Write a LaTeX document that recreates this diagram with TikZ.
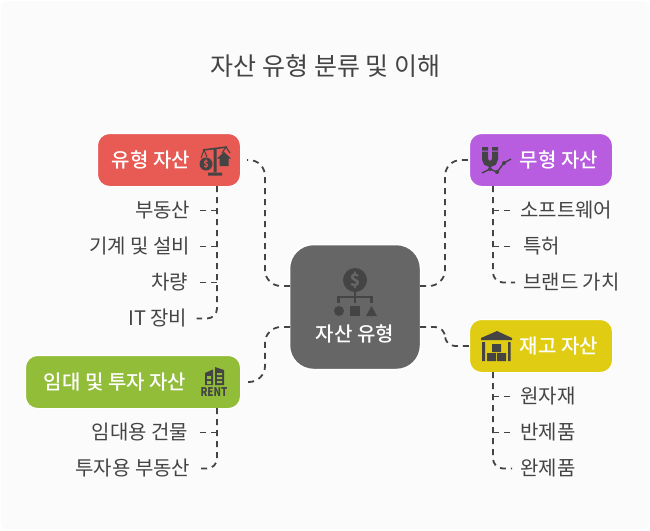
\documentclass[tikz,border=0pt]{standalone}
\usepackage{fontspec}
\setmainfont{Noto Sans CJK KR}
\newfontfamily\medfont{Noto Sans CJK KR Medium}
\definecolor{pagegray}{HTML}{FBFBFB}
\definecolor{inkgray}{HTML}{444444}
\definecolor{coregray}{HTML}{666666}
\definecolor{redbox}{HTML}{E85A54}
\definecolor{purplebox}{HTML}{B85CE0}
\definecolor{yellowbox}{HTML}{E1CC14}
\definecolor{greenbox}{HTML}{92BD38}
\tikzset{
    box/.style={draw=white, line width=1pt, rounded corners=12pt, minimum width=143pt,
        minimum height=53pt, inner sep=0pt, text=white, font=\fontsize{20}{22}\medfont},
    leaf/.style={inner sep=0pt, text=inkgray, font=\fontsize{20}{22}\selectfont},
    link/.style={draw=inkgray, line width=1.8pt, dash pattern=on 6pt off 5pt, rounded corners=16pt},
    icon/.style={fill=inkgray, draw=none}
}
\begin{document}
\begin{tikzpicture}[x=1pt, y=-1pt]
    \useasboundingbox (0,0) rectangle (650,530);
    \fill[pagegray, rounded corners=6pt] (1,1) rectangle (649,529);
    \node[text=inkgray, inner sep=0pt, font=\fontsize{25}{28}\selectfont] (title) at (325.5,66.5) {자산 유형 분류 및 이해};
    % center and the four boxes
    \node[draw=white, line width=1.5pt, fill=coregray, rounded corners=24pt, minimum width=131pt, minimum height=125pt] (core) at (355,307) {};
    \node[box, fill=redbox] (tangible) at (169,160) {유형 자산\hspace*{36pt}};
    \node[box, fill=purplebox] (intangible) at (541,160) {\hspace*{36pt}무형 자산};
    \node[box, fill=yellowbox] (inventory) at (541,346) {\hspace*{36pt}재고 자산};
    \node[box, fill=greenbox, minimum width=215pt] (lease) at (133,382) {임대 및 투자 자산\hspace*{36pt}};
    \node[inner sep=0pt, text=white, font=\fontsize{20}{22}\medfont] (core label) at (355,333.5) {자산 유형};
    % leaves
    \node[leaf, anchor=east] (realty) at (190.5,210.5) {부동산};
    \node[leaf, anchor=east] (machine) at (190.5,246.5) {기계 및 설비};
    \node[leaf, anchor=east] (vehicle) at (188.5,282.5) {차량};
    \node[leaf, anchor=east] (itgear) at (187.5,318.5) {IT 장비};
    \node[leaf, anchor=west] (software) at (520,210.5) {소프트웨어};
    \node[leaf, anchor=west] (patent) at (523,246.5) {특허};
    \node[leaf, anchor=west] (brand) at (523,282.5) {브랜드 가치};
    \node[leaf, anchor=west] (rawmat) at (520,396.5) {원자재};
    \node[leaf, anchor=west] (semi) at (520,432.5) {반제품};
    \node[leaf, anchor=west] (finished) at (520,468.5) {완제품};
    \node[leaf, anchor=east] (rental) at (188.5,432.5) {임대용 건물};
    \node[leaf, anchor=east] (invest) at (190.5,468.5) {투자용 부동산};
    % center to boxes
    \coordinate (core nw) at (290,286);
    \coordinate (core sw) at (290,327);
    \coordinate (core ne) at (420,286);
    \coordinate (core se) at (420,327);
    \draw[link] (core nw) -- ++(-25,0) |- ([xshift=6pt]tangible.east);
    \draw[link] (core ne) -- ++(25,0) |- ([xshift=-1pt]intangible.west);
    \draw[link, rounded corners=10pt] (core se) -- ++(25,0) |- (inventory.west);
    \draw[link] (core sw) -- ++(-25,0) |- ([xshift=6pt]lease.east);
    % box to leaves
    \coordinate (tangible foot) at (217,186);
    \coordinate (intangible foot) at (493,186);
    \coordinate (inventory foot) at (493,372);
    \coordinate (lease foot) at (217,408);
    \draw[link, rounded corners=10pt] (tangible foot) |- ([xshift=9pt]itgear.east);
    \draw[link, rounded corners=0pt] (tangible foot |- realty) -- ([xshift=9pt]realty.east);
    \draw[link, rounded corners=0pt] (tangible foot |- machine) -- ([xshift=9pt]machine.east);
    \draw[link, rounded corners=0pt] (tangible foot |- vehicle) -- ([xshift=11pt]vehicle.east);
    \draw[link, rounded corners=10pt] (intangible foot) |- ([xshift=-8pt]brand.west);
    \draw[link, rounded corners=0pt] (intangible foot |- software) -- ([xshift=-9pt]software.west);
    \draw[link, rounded corners=0pt] (intangible foot |- patent) -- ([xshift=-12pt]patent.west);
    \draw[link, rounded corners=10pt] (inventory foot) |- ([xshift=-8pt]finished.west);
    \draw[link, rounded corners=0pt] (inventory foot |- rawmat) -- ([xshift=-9pt]rawmat.west);
    \draw[link, rounded corners=0pt] (inventory foot |- semi) -- ([xshift=-9pt]semi.west);
    \draw[link, rounded corners=10pt] (lease foot) |- ([xshift=9pt]invest.east);
    \draw[link, rounded corners=0pt] (lease foot |- rental) -- ([xshift=11pt]rental.east);
    % core icon
    \fill[icon] (355,280) circle (12);
    \node[inner sep=0pt, text=coregray, font=\fontsize{17}{17}\selectfont\bfseries] (core coin) at (355,280) {\$};
    \draw[inkgray, line width=2.6pt] (338.5,303) -- (338.5,297) -- (371.5,297) -- (371.5,303) (355,292) -- (355,303);
    \fill[icon] (339,311) circle (5);
    \fill[icon] (350,306) rectangle (360,316);
    \fill[icon] (366,316) -- (371.5,306) -- (377,316) -- cycle;
    % scale icon
    \fill[icon] (213.5,148) rectangle (216.5,172) (208,172.5) rectangle (222,175.5);
    \draw[inkgray, line width=1.6pt] (203,150) -- (227,147);
    \draw[inkgray, line width=1pt] (204,150) -- (201,158) (204,150) -- (207,157) (226,147) -- (222,153) (226,147) -- (230,153);
    \fill[icon] (206,164) circle (6.5);
    \node[inner sep=0pt, text=redbox, font=\fontsize{9}{9}\selectfont\bfseries] (scale coin) at (206,164) {\$};
    \fill[icon] (217,158.5) -- (224,152) -- (231,158.5) -- (228.5,158.5) -- (228.5,166) -- (219.5,166) -- (219.5,158.5) -- cycle;
    % magnet icon
    \draw[inkgray, line width=6pt] (485,147) -- (485,159) arc[start angle=180, end angle=0, radius=5] -- (495,147);
    \fill[purplebox] (482,150.5) rectangle (488,151.5) (492,150.5) rectangle (498,151.5);
    \draw[inkgray, line width=1.4pt] (482,173) -- (490,169) -- (497,172) -- (504,163) -- (511,159);
    \fill[icon] (490,169) circle (2) (497,172) circle (2) (504,163) circle (2);
    % warehouse icon
    \fill[icon] (481,340) -- (481,338) -- (497,331) -- (512,338) -- (512,340) -- cycle;
    \fill[icon] (482,342) rectangle (485,361) (508,342) rectangle (510.5,361);
    \fill[icon] (492,344) rectangle (501,352) (487,353) rectangle (496,361) (497,353) rectangle (506,361);
    % rent icon
    \fill[icon] (205,385) -- (205,373) -- (213,369.5) -- (213,385) -- cycle;
    \fill[icon] (215,385) -- (215,367) -- (224,370) -- (224,385) -- cycle;
    \fill[greenbox] (207,376) rectangle (211,379) (207,381) rectangle (211,384) (217,373) rectangle (222,375) (217,377) rectangle (222,379) (217,381) rectangle (222,383);
    \node[inner sep=0pt, text=inkgray, xscale=.82, font=\fontsize{12}{12}\selectfont\bfseries] (rent word) at (214,392.5) {RENT};
\end{tikzpicture}
\end{document}
